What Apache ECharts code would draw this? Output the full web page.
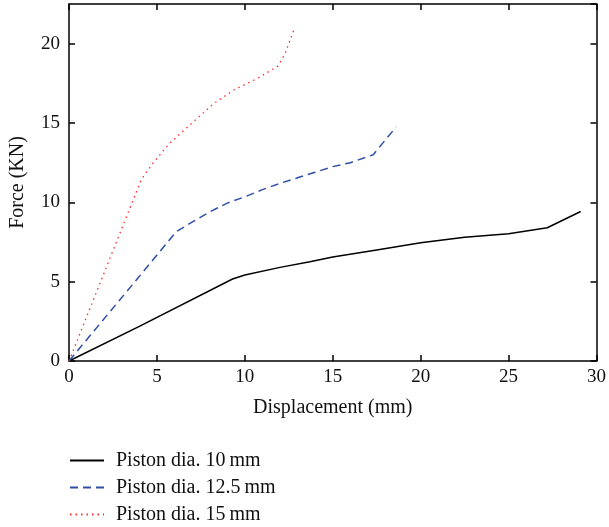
<!DOCTYPE html>
<html>
<head>
<meta charset="utf-8">
<script src="https://cdn.jsdelivr.net/npm/echarts@6/dist/echarts.min.js"></script>
<style>
html,body{margin:0;padding:0;background:#fff;}
#chart{width:609px;height:527px;}
</style>
</head>
<body>
<div id="chart"></div>
<script>
var seriesNames = ['Piston dia. 10\u2009mm', 'Piston dia. 12.5\u2009mm', 'Piston dia. 15\u2009mm'];

var x10 = [0, 4, 9.3, 10, 12, 13.7, 15, 17.5, 20, 22.5, 25, 27.2, 29.1];
var y10 = [0, 2.18, 5.17, 5.42, 5.9, 6.25, 6.55, 7.0, 7.45, 7.8, 8.02, 8.4, 9.42];

var x125 = [0, 3.9, 6.1, 7, 8, 9, 10, 11, 12, 13, 14, 15, 16, 17.3, 18.6];
var y125 = [0, 5.2, 8.15, 8.75, 9.4, 9.95, 10.35, 10.8, 11.2, 11.55, 11.9, 12.25, 12.5, 13.0, 14.75];

var x15 = [0, 4.1, 4.4, 4.8, 5.7, 7.0, 8.2, 9.4, 10.7, 11.9, 12.3, 12.85];
var y15 = [0, 11.4, 11.9, 12.5, 13.7, 15.0, 16.2, 17.1, 17.8, 18.6, 19.4, 21.05];

var xTicks = [0, 5, 10, 15, 20, 25, 30];
var yTicks = [0, 5, 10, 15, 20];

function pairs(xs, ys) { return xs.map(function (v, i) { return [v, ys[i]]; }); }

var FONT = '"Liberation Serif", "Times New Roman", serif';
var axisLineStyle = { color: '#000', width: 1.5 };

var chart = echarts.init(document.getElementById('chart'), null, { renderer: 'canvas' });
chart.setOption({
  animation: false,
  backgroundColor: '#fff',
  grid: { left: 69, right: 11, top: 4, bottom: 166, containLabel: false },
  legend: {
    orient: 'vertical',
    left: 69,
    top: 450,
    height: 90,
    padding: 0,
    itemWidth: 34,
    itemHeight: 14,
    itemGap: 6,
    itemStyle: { opacity: 0 },
    textStyle: { fontFamily: FONT, fontSize: 20, lineHeight: 21, color: '#111', padding: [0, 0, 0, 7] },
    data: seriesNames
  },
  xAxis: [{
    type: 'value', min: 0, max: 30, interval: 5, position: 'bottom',
    name: 'Displacement (mm)', nameLocation: 'middle', nameGap: 37,
    nameTextStyle: { fontFamily: FONT, fontSize: 20, color: '#111' },
    axisLine: { onZero: false, lineStyle: axisLineStyle },
    axisTick: { inside: true, length: 6, lineStyle: axisLineStyle },
    axisLabel: { fontFamily: FONT, fontSize: 19, color: '#111', margin: 7,
      formatter: function (v) { return xTicks.indexOf(v) >= 0 ? String(v) : ''; } },
    splitLine: { show: false }
  }, {
    type: 'value', min: 0, max: 30, interval: 5, position: 'top',
    axisLine: { onZero: false, lineStyle: axisLineStyle },
    axisTick: { inside: true, length: 6, lineStyle: axisLineStyle },
    axisLabel: { show: false },
    splitLine: { show: false }
  }],
  yAxis: [{
    type: 'value', min: 0, max: 22.5, interval: 5, position: 'left',
    name: 'Force (KN)', nameLocation: 'middle', nameGap: 41, nameRotate: 90,
    nameTextStyle: { fontFamily: FONT, fontSize: 20, color: '#111' },
    axisLine: { onZero: false, lineStyle: axisLineStyle },
    axisTick: { inside: true, length: 6, lineStyle: axisLineStyle },
    axisLabel: { fontFamily: FONT, fontSize: 19, color: '#111', margin: 9, showMaxLabel: false,
      formatter: function (v) { return yTicks.indexOf(v) >= 0 ? String(v) : ''; } },
    splitLine: { show: false }
  }, {
    type: 'value', min: 0, max: 22.5, interval: 5, position: 'right',
    axisLine: { onZero: false, lineStyle: axisLineStyle },
    axisTick: { inside: true, length: 6, lineStyle: axisLineStyle },
    axisLabel: { show: false },
    splitLine: { show: false }
  }],
  series: [{
    name: seriesNames[0], type: 'line', showSymbol: false, symbol: 'none',
    data: pairs(x10, y10),
    lineStyle: { color: '#000', width: 1.5, type: 'solid' },
    itemStyle: { color: '#000' }
  }, {
    name: seriesNames[1], type: 'line', showSymbol: false, symbol: 'none',
    data: pairs(x125, y125),
    lineStyle: { color: '#2f4fa6', width: 1.5, type: [8, 5] },
    itemStyle: { color: '#2f4fa6' }
  }, {
    name: seriesNames[2], type: 'line', showSymbol: false, symbol: 'none',
    data: pairs(x15, y15),
    lineStyle: { color: '#ff2a2a', width: 1.3, type: [1.5, 4] },
    itemStyle: { color: '#ff2a2a' }
  }]
});
</script>
</body>
</html>
